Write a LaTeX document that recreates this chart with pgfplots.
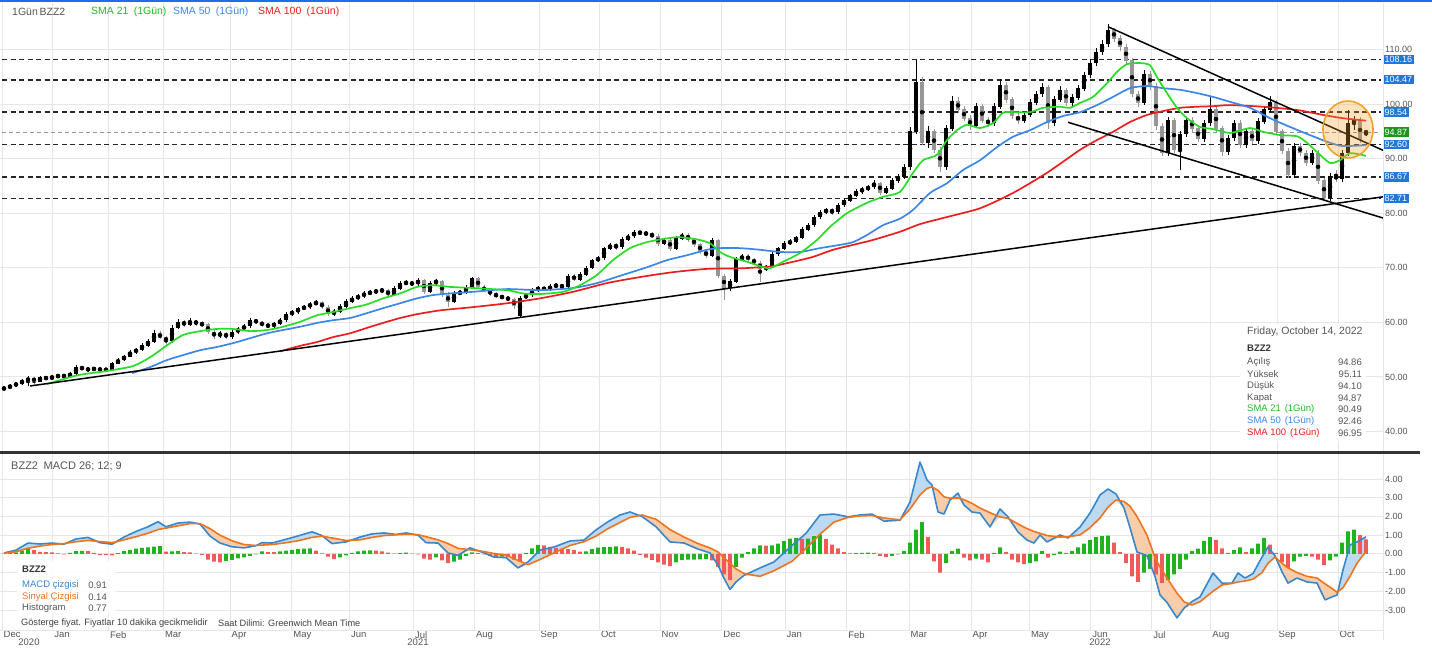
\documentclass[border=0pt]{standalone}
\usepackage{pgfplots}
\usepackage{pgfplotstable}
\pgfplotsset{compat=1.18}
\usepgfplotslibrary{fillbetween}
\usepackage{fontspec}
\setmainfont{Liberation Sans}
\definecolor{smagreen}{RGB}{40,220,40}
\definecolor{smablue}{RGB}{60,135,230}
\definecolor{smared}{RGB}{235,30,30}
\definecolor{candlegray}{RGB}{150,150,150}
\definecolor{gridc}{RGB}{230,230,230}
\definecolor{lblblue}{RGB}{30,120,220}
\definecolor{lblgreen}{RGB}{30,150,30}
\definecolor{macdblue}{RGB}{55,135,205}
\definecolor{sigorange}{RGB}{240,115,30}
\definecolor{fillblue}{RGB}{190,218,242}
\definecolor{fillorange}{RGB}{250,205,170}
\definecolor{histgreen}{RGB}{30,180,30}
\definecolor{histred}{RGB}{240,90,90}
\definecolor{txtgray}{RGB}{85,85,85}
\definecolor{circor}{RGB}{245,160,40}
\definecolor{topblue}{RGB}{30,110,230}
\tikzset{lvl/.style={fill=lblblue, text=white, font=\fontsize{9}{10}\selectfont, inner xsep=1.5pt, inner ysep=1.6pt, anchor=west}}

\pgfplotstableread{
x o h l c
4 47.8 48.3 47.5 48.0
10 48.0 48.7 47.8 48.4
16 48.4 49.1 48.2 48.8
22 48.8 49.6 48.6 49.3
28 49.3 50.2 48.3 49.8
34 49.8 50.0 48.6 49.2
40 49.2 50.2 49.0 49.9
46 49.9 50.2 49.4 49.7
52 49.7 50.4 49.5 50.0
58 50.0 50.6 49.8 50.3
64 50.3 50.5 49.8 50.1
70 50.1 50.9 49.9 50.6
76 50.6 52.2 50.4 51.8
82 51.8 52.0 51.2 51.5
88 51.5 51.8 51.0 51.3
94 51.3 51.9 51.1 51.6
100 51.6 51.8 50.9 51.2
106 51.2 51.7 51.0 51.4
112 51.4 52.8 51.2 52.5
118 52.5 53.5 52.3 53.1
124 53.1 54.1 52.9 53.8
130 53.8 55.0 53.6 54.6
136 54.6 55.4 54.2 55.0
142 55.0 56.2 54.7 55.8
148 55.8 57.0 55.5 56.5
154 56.5 58.6 56.2 58.0
160 58.0 58.5 56.9 57.2
166 57.2 57.6 55.8 56.6
172 56.6 59.5 56.3 59.0
178 59.0 60.6 58.7 60.0
184 60.0 60.5 59.2 59.6
190 59.6 60.8 59.3 60.2
196 60.2 60.5 59.4 59.8
202 59.8 60.2 59.1 59.6
208 59.6 59.9 57.8 58.2
214 58.2 58.6 57.0 57.5
220 57.5 58.4 57.2 58.0
226 58.0 58.3 56.9 57.3
232 57.3 58.6 57.0 58.2
238 58.2 59.2 57.9 58.8
244 58.8 59.7 58.5 59.3
250 59.3 60.8 59.0 60.4
256 60.4 60.7 59.7 60.0
262 60.0 60.3 59.2 59.5
268 59.5 59.9 58.9 59.3
274 59.3 60.1 59.0 59.8
280 59.8 60.8 59.5 60.4
286 60.4 61.9 60.1 61.5
292 61.5 62.3 61.2 61.9
298 61.9 62.9 61.6 62.5
304 62.5 63.2 62.2 62.8
310 62.8 63.8 62.5 63.4
316 63.4 64.1 63.1 63.6
322 63.6 63.9 62.4 62.8
328 62.8 63.1 61.1 61.5
334 61.5 62.4 61.2 62.0
340 62.0 63.3 61.7 62.9
346 62.9 64.2 62.6 63.8
352 63.8 64.8 63.5 64.4
358 64.4 65.2 64.1 64.8
364 64.8 65.7 64.5 65.3
370 65.3 65.9 65.0 65.5
376 65.5 66.2 65.2 65.8
382 65.8 66.3 65.4 65.9
388 65.9 66.1 64.6 65.0
394 65.0 66.6 64.8 66.2
400 66.2 67.5 65.9 67.1
406 67.1 67.7 66.8 67.3
412 67.3 67.6 66.6 67.0
418 67.0 68.1 66.7 67.7
424 67.7 67.9 65.2 65.6
430 65.6 67.6 65.3 67.2
436 67.2 68.0 66.9 67.5
442 67.5 67.8 64.6 65.0
448 65.0 65.5 62.8 63.8
454 63.8 65.7 63.5 65.3
460 65.3 65.9 65.0 65.5
466 65.5 66.8 65.2 66.4
472 66.4 68.4 66.1 68.0
478 68.0 68.3 66.2 66.5
484 66.5 66.8 65.5 65.8
490 65.8 66.1 64.9 65.2
496 65.2 65.5 64.5 64.8
502 64.8 65.1 64.2 64.5
508 64.5 64.8 63.9 64.2
514 64.2 64.4 62.5 63.0
520 61.3 64.8 60.8 64.5
526 64.5 65.4 64.2 65.0
532 65.0 66.3 64.7 65.9
538 65.9 66.7 65.6 66.3
544 66.3 66.6 65.7 66.0
550 66.0 67.0 65.7 66.6
556 66.6 67.2 66.3 66.8
562 66.8 67.1 66.1 66.5
568 66.5 68.9 66.2 68.5
574 68.5 68.8 67.5 67.9
580 67.9 69.2 67.6 68.8
586 68.8 70.4 68.5 70.0
592 70.0 71.7 69.7 71.3
598 71.3 72.2 71.0 71.8
604 71.8 73.9 71.5 73.5
610 73.5 74.6 73.2 74.2
616 74.2 74.5 73.3 73.8
622 73.8 75.6 73.5 75.2
628 75.2 76.2 74.9 75.8
634 75.8 76.9 75.5 76.5
640 76.5 76.8 76.0 76.4
646 76.4 76.7 75.8 76.2
652 76.2 76.5 75.4 75.8
658 75.8 76.1 74.0 74.4
664 74.4 75.5 74.1 75.1
670 75.1 75.4 73.1 73.5
676 73.5 75.8 73.2 75.4
682 75.4 76.4 75.1 76.0
688 76.0 76.3 74.8 75.2
694 75.2 75.5 73.9 74.3
700 74.3 74.6 72.6 73.0
706 73.0 73.3 71.8 72.2
712 72.2 75.4 71.9 75.0
718 75.0 75.3 68.1 68.5
724 68.5 68.9 64.1 66.3
730 66.3 67.9 65.8 67.5
736 67.5 71.9 67.2 71.5
742 71.5 72.6 71.2 72.2
748 72.2 72.5 71.1 71.5
754 71.5 71.8 70.5 70.9
760 70.9 71.2 67.4 69.8
766 69.8 70.6 69.4 70.2
772 70.2 72.9 69.9 72.5
778 72.5 73.9 72.2 73.5
784 73.5 74.9 73.2 74.5
790 74.5 75.2 74.2 74.8
796 74.8 75.9 74.5 75.5
802 75.5 77.4 75.2 77.0
808 77.0 78.2 76.7 77.8
814 77.8 79.7 77.5 79.3
820 79.3 80.6 79.0 80.2
826 80.2 81.0 79.8 80.6
832 80.6 80.9 79.7 80.2
838 80.2 81.9 79.9 81.5
844 81.5 82.7 81.2 82.3
850 82.3 83.6 82.0 83.2
856 83.2 84.4 82.9 84.0
862 84.0 84.8 83.6 84.4
868 84.4 85.2 84.0 84.8
874 84.8 86.0 84.5 85.5
880 85.5 85.8 83.4 83.8
886 83.8 84.9 83.5 84.5
892 84.5 86.5 84.2 86.0
898 86.0 87.1 85.6 86.6
904 86.6 89.0 86.2 88.5
910 88.5 95.8 88.0 95.0
916 95.0 108.0 94.5 104.0
922 104.0 105.0 92.5 93.0
928 93.0 96.0 92.0 95.0
934 95.0 95.5 91.0 91.6
940 91.6 92.2 87.6 88.5
946 88.5 96.2 88.0 95.5
952 95.5 101.4 95.0 100.5
958 100.5 101.2 98.4 99.0
964 99.0 99.6 96.8 97.3
970 97.3 97.9 95.3 96.0
976 96.0 100.2 95.6 99.5
982 99.5 100.0 96.5 97.0
988 97.0 97.6 95.8 96.5
994 96.5 100.2 96.0 99.5
1000 99.5 104.6 99.0 103.5
1006 103.5 104.0 100.2 100.8
1012 100.8 101.3 97.3 97.8
1018 97.8 98.3 96.4 97.0
1024 97.0 98.6 96.5 98.0
1030 98.0 100.9 97.6 100.3
1036 100.3 102.4 99.8 101.8
1042 101.8 103.8 101.3 103.0
1048 103.0 103.5 95.5 96.5
1054 96.5 101.4 96.0 100.8
1060 100.8 103.3 100.3 102.6
1066 102.6 103.0 99.6 100.2
1072 100.2 101.8 99.7 101.2
1078 101.2 103.4 100.7 102.8
1084 102.8 105.9 102.3 105.3
1090 105.3 108.2 104.8 107.5
1096 107.5 110.2 107.0 109.5
1102 109.5 111.8 109.0 111.0
1108 111.0 114.6 110.5 113.5
1114 113.5 114.0 111.4 112.0
1120 112.0 112.6 109.8 110.4
1126 110.4 111.0 107.3 108.0
1132 108.0 108.5 101.2 101.8
1138 101.8 102.4 99.5 100.2
1144 100.2 106.2 99.8 105.5
1150 105.5 106.0 102.6 103.2
1156 103.2 103.8 95.3 96.0
1162 96.0 96.6 90.4 91.0
1168 91.0 97.7 90.5 97.0
1174 97.0 97.5 91.0 91.6
1180 91.6 95.1 88.0 94.5
1186 94.5 97.7 94.0 97.1
1192 97.1 97.6 94.9 95.5
1198 95.5 96.0 93.0 93.6
1204 93.6 97.1 93.1 96.5
1210 96.5 101.3 96.0 99.0
1216 99.0 99.5 94.9 95.5
1222 95.5 96.0 90.5 91.2
1228 91.2 94.4 90.7 93.8
1234 93.8 97.1 93.3 96.5
1240 96.5 97.0 91.9 92.5
1246 92.5 95.6 92.0 95.0
1252 95.0 95.5 92.6 93.2
1258 93.2 97.4 92.7 96.8
1264 96.8 99.6 96.3 99.0
1270 99.0 101.5 98.5 100.3
1276 100.3 100.8 94.4 95.0
1282 95.0 95.5 90.8 91.4
1288 91.4 91.9 86.4 87.0
1294 87.0 92.9 86.5 92.3
1300 92.3 92.8 90.4 91.0
1306 91.0 91.5 88.7 89.3
1312 89.3 91.6 88.8 91.0
1318 91.0 91.5 85.4 86.0
1324 86.0 86.5 82.2 82.8
1330 82.8 87.4 82.3 86.8
1336 86.8 87.9 85.8 86.3
1342 86.3 91.6 85.8 91.0
1348 91.0 98.9 90.5 96.5
1354 96.5 97.8 95.2 97.0
1360 97.0 97.6 92.9 93.5
1366 94.86 95.11 94.10 94.87
}\candles

\pgfplotstableread{
x m s
4 0.05 0.03
16 0.2 0.12
28 0.58 0.3
40 0.53 0.42
52 0.58 0.5
64 0.52 0.55
76 0.8 0.65
88 0.88 0.72
100 0.6 0.66
112 0.52 0.6
124 0.9 0.75
136 1.2 0.92
148 1.45 1.1
158 1.72 1.3
166 1.45 1.38
178 1.65 1.5
190 1.7 1.62
200 1.6 1.62
210 0.95 1.35
220 0.58 1.0
232 0.38 0.7
244 0.32 0.5
256 0.44 0.45
262 0.6 0.47
272 0.58 0.5
284 0.75 0.58
298 0.96 0.7
312 1.18 0.88
322 0.98 0.95
332 0.55 0.85
346 0.64 0.72
360 0.9 0.75
372 1.07 0.88
384 1.12 0.98
396 1.04 1.02
406 1.12 1.05
418 1.0 1.03
426 0.6 0.92
438 0.58 0.75
448 0.05 0.55
458 -0.08 0.3
470 0.32 0.22
482 0.1 0.14
494 -0.17 0.02
506 -0.2 -0.06
518 -0.75 -0.35
528 -0.43 -0.58
540 0.2 -0.3
554 0.37 0.05
570 0.69 0.45
584 0.74 0.65
596 1.28 0.95
608 1.72 1.35
620 2.08 1.68
630 2.24 1.95
642 2.0 2.08
656 1.45 1.85
670 0.64 1.3
684 0.58 0.9
698 0.26 0.55
710 0.05 0.32
718 -0.6 0.1
724 -1.3 -0.2
730 -1.9 -0.5
736 -1.5 -0.8
744 -1.15 -1.05
760 -0.75 -1.2
774 -0.43 -0.9
792 0.45 -0.4
806 1.1 0.3
820 2.08 1.05
834 2.13 1.7
848 1.98 1.95
860 2.08 2.03
872 2.13 2.05
884 1.75 1.92
900 1.8 1.82
910 2.77 2.4
920 4.91 3.15
927 3.95 3.5
932 3.68 3.58
938 2.24 3.4
944 2.13 3.05
950 2.88 2.98
958 3.25 2.99
964 2.61 2.9
972 2.24 2.7
980 2.18 2.45
990 1.44 2.2
1000 2.4 1.98
1008 1.98 1.9
1018 1.17 1.6
1027 0.74 1.35
1034 0.58 1.2
1040 1.01 1.1
1047 0.64 0.98
1060 1.01 0.9
1068 0.85 0.92
1080 1.44 1.01
1090 2.18 1.4
1100 3.15 1.92
1108 3.47 2.5
1116 3.2 2.88
1124 2.45 2.8
1130 1.4 2.55
1137 0.1 2.0
1147 -0.1 1.0
1155 -1.2 -0.2
1160 -2.2 -0.7
1167 -2.6 -1.29
1177 -3.42 -2.1
1184 -2.9 -2.56
1192 -2.55 -2.73
1200 -2.3 -2.56
1213 -1.02 -2.0
1222 -1.56 -1.66
1232 -1.56 -1.58
1238 -1.02 -1.5
1245 -1.29 -1.45
1253 -1.05 -1.35
1262 -0.17 -1.0
1268 0.37 -0.5
1275 -0.1 -0.17
1282 -0.96 -0.5
1288 -1.56 -0.75
1297 -1.29 -1.0
1307 -1.5 -1.2
1317 -1.56 -1.29
1325 -2.46 -1.6
1332 -2.3 -1.85
1337 -2.2 -2.05
1343 -0.86 -1.8
1350 0.48 -1.2
1357 0.64 -0.5
1366 0.91 0.14
}\macd

\begin{document}
\begin{tikzpicture}

% ---------------- price panel ----------------
\begin{axis}[
  at={(0pt,-3pt)}, anchor=north west,
  scale only axis, width=1383pt, height=449pt,
  xmin=0, xmax=1383, ymin=36.26, ymax=118.5,
  axis line style={draw=none}, tick style={draw=none},
  xtick={2,52.7,108.3,163.3,230,291.7,349.3,413.3,474.3,539,599.3,660,721.7,785,846.7,909,971,1029.3,1090.7,1151.7,1210.7,1277,1338},
  xticklabels={},
  ytick={40,50,...,110},
  grid=major, grid style={gridc, line width=1pt},
  yticklabel pos=right,
  yticklabel={\pgfmathprintnumber[fixed,fixed zerofill,precision=2,assume math mode=true]{\tick}},
  yticklabel style={font=\fontsize{9}{10}\selectfont, text=txtgray, anchor=west, inner sep=0pt, xshift=2pt},
  clip mode=individual,
]
% horizontal levels
\addplot[candlegray, line width=0.9pt, dash pattern=on 4pt off 3pt] coordinates {(2,94.87) (1381,94.87)};
\addplot[black!85, line width=1.8pt, dash pattern=on 5pt off 3.5pt] coordinates {(2,108.16) (1381,108.16)};
\addplot[black!85, line width=1.8pt, dash pattern=on 5pt off 3.5pt] coordinates {(2,104.47) (1381,104.47)};
\addplot[black!85, line width=1.8pt, dash pattern=on 5pt off 3.5pt] coordinates {(2,98.54) (1381,98.54)};
\addplot[black!85, line width=1.8pt, dash pattern=on 5pt off 3.5pt] coordinates {(2,92.60) (1381,92.60)};
\addplot[black!85, line width=1.8pt, dash pattern=on 5pt off 3.5pt] coordinates {(2,86.67) (1381,86.67)};
\addplot[black!85, line width=1.8pt, dash pattern=on 5pt off 3.5pt] coordinates {(2,82.71) (1381,82.71)};
% candles: down (gray)
\addplot[only marks, mark=none, restrict expr to domain={\thisrow{c}-\thisrow{o}}{-1000:-0.000001},
  error bars/.cd, y dir=both, y explicit, error mark=none, error bar style={line width=1pt, candlegray}]
  table[x=x, y expr=(\thisrow{h}+\thisrow{l})/2, y error expr=(\thisrow{h}-\thisrow{l})/2] {\candles};
\addplot[only marks, mark=none, restrict expr to domain={\thisrow{c}-\thisrow{o}}{-1000:-0.000001},
  error bars/.cd, y dir=both, y explicit, error mark=none, error bar style={line width=3.6pt, candlegray}]
  table[x=x, y expr=(\thisrow{o}+\thisrow{c})/2, y error expr=abs(\thisrow{c}-\thisrow{o})/2+0.05] {\candles};
% candles: up (black)
\addplot[only marks, mark=none, restrict expr to domain={\thisrow{c}-\thisrow{o}}{0:1000},
  error bars/.cd, y dir=both, y explicit, error mark=none, error bar style={line width=1pt, black}]
  table[x=x, y expr=(\thisrow{h}+\thisrow{l})/2, y error expr=(\thisrow{h}-\thisrow{l})/2] {\candles};
\addplot[only marks, mark=none, restrict expr to domain={\thisrow{c}-\thisrow{o}}{0:1000},
  error bars/.cd, y dir=both, y explicit, error mark=none, error bar style={line width=3.6pt, black}]
  table[x=x, y expr=(\thisrow{o}+\thisrow{c})/2, y error expr=abs(\thisrow{c}-\thisrow{o})/2+0.05] {\candles};
% SMA 100
\addplot[smared, line width=1.7pt, smooth, tension=0.4] coordinates {
(280,54.7) (300,55.7) (317,56.4) (333,57.3) (350,58.0) (367,59.0) (383,59.9) (400,60.8) (417,61.5) (440,62.2) (473,62.8) (507,63.5) (540,64.4) (573,65.6) (607,67.2) (640,68.3) (673,69.2) (707,69.8) (740,69.9) (760,70.1) (773,70.3) (793,71.1) (813,72.0) (833,73.3) (853,74.2) (873,75.1) (900,76.6) (920,78.0) (947,79.3) (980,80.9) (1013,83.7) (1047,87.4) (1080,91.6) (1097,93.4) (1113,94.9) (1130,96.7) (1147,98.0) (1163,98.7) (1180,99.3) (1197,99.5) (1213,99.6) (1230,99.8) (1263,99.5) (1297,98.9) (1323,98.0) (1343,97.4) (1366,96.95)};
% SMA 50
\addplot[smablue, line width=1.7pt, smooth, tension=0.4] coordinates {
(132,50.7) (150,51.8) (167,53.1) (183,54.0) (200,54.9) (217,55.5) (233,56.2) (250,57.1) (267,58.0) (283,58.6) (300,59.2) (317,59.9) (333,60.4) (350,60.8) (367,61.7) (383,62.6) (400,63.5) (417,64.4) (433,65.0) (450,65.3) (473,65.6) (507,66.1) (540,65.9) (573,66.3) (597,67.2) (623,68.7) (647,70.1) (667,71.4) (687,72.3) (707,73.3) (720,73.6) (740,73.6) (760,73.3) (780,72.9) (800,72.9) (820,73.6) (840,74.2) (853,74.7) (867,76.0) (883,77.8) (900,79.0) (913,80.6) (930,83.7) (947,85.5) (963,87.9) (980,89.7) (997,92.1) (1013,94.0) (1030,95.2) (1047,96.7) (1063,97.8) (1080,98.5) (1097,99.8) (1113,101.3) (1130,102.9) (1147,103.3) (1163,102.9) (1180,102.6) (1197,102.0) (1213,101.3) (1230,100.4) (1250,99.3) (1270,97.4) (1290,95.8) (1310,94.3) (1330,92.9) (1343,92.3) (1366,92.46)};
% SMA 21
\addplot[smagreen, line width=1.7pt, smooth, tension=0.4] coordinates {
(47,48.7) (77,50.3) (107,51.1) (133,52.0) (150,53.6) (167,55.8) (183,57.7) (200,58.4) (217,58.8) (233,58.8) (250,58.4) (267,58.6) (283,59.2) (300,60.1) (317,61.3) (333,61.9) (350,62.6) (367,63.3) (383,64.4) (400,65.3) (417,66.5) (433,66.8) (450,66.5) (473,66.3) (507,65.9) (523,65.3) (540,65.2) (563,65.6) (580,66.8) (597,68.7) (613,71.4) (630,73.6) (647,74.7) (667,75.4) (680,75.6) (697,75.2) (710,74.5) (720,72.9) (730,72.0) (747,71.1) (760,70.3) (770,69.9) (783,71.1) (800,72.7) (817,75.1) (830,77.5) (847,80.0) (867,81.9) (883,83.0) (900,83.9) (913,87.4) (923,89.7) (937,90.7) (947,93.4) (957,95.2) (967,96.2) (980,95.6) (993,96.5) (1003,98.4) (1013,98.5) (1030,98.5) (1043,99.3) (1060,99.5) (1070,99.3) (1080,100.2) (1093,101.3) (1107,103.8) (1117,105.9) (1127,107.3) (1140,107.5) (1150,107.1) (1157,104.9) (1167,102.0) (1177,99.3) (1187,97.4) (1200,95.8) (1213,95.4) (1230,94.7) (1250,95.6) (1263,94.9) (1280,94.3) (1297,94.1) (1307,92.9) (1317,91.2) (1330,89.2) (1340,89.7) (1350,91.0) (1366,90.49)};
% trend lines
\addplot[black, line width=1.5pt] coordinates {(30,48.35) (1383,83.0)};
\addplot[black, line width=1.5pt] coordinates {(1108,114.16) (1383,91.52)};
\addplot[black, line width=1.5pt] coordinates {(1068,96.65) (1383,79.12)};
% highlight circle
\draw[circor, line width=1.6pt, fill=circor, fill opacity=0.3] (axis cs:1348,95.33) ellipse [x radius=25pt, y radius=28.5pt];
% level labels
\node[lvl] at (axis cs:1383,108.16) {108.16};
\node[lvl] at (axis cs:1383,104.47) {104.47};
\node[lvl] at (axis cs:1383,98.54) {98.54};
\node[lvl] at (axis cs:1383,92.60) {92.60};
\node[lvl] at (axis cs:1383,86.67) {86.67};
\node[lvl] at (axis cs:1383,82.71) {82.71};
\node[lvl, fill=lblgreen] at (axis cs:1383,94.87) {94.87};
\end{axis}

% ---------------- MACD panel ----------------
\begin{axis}[
  at={(0pt,-454pt)}, anchor=north west,
  scale only axis, width=1383pt, height=176pt,
  xmin=0, xmax=1383, ymin=-4.07, ymax=5.34,
  axis line style={draw=none}, tick style={draw=none},
  xtick={2,52.7,108.3,163.3,230,291.7,349.3,413.3,474.3,539,599.3,660,721.7,785,846.7,909,971,1029.3,1090.7,1151.7,1210.7,1277,1338},
  xticklabels={Dec,Jan,Feb,Mar,Apr,May,Jun,Jul,Aug,Sep,Oct,Nov,Dec,Jan,Feb,Mar,Apr,May,Jun,Jul,Aug,Sep,Oct},
  xticklabel style={anchor=north west, font=\fontsize{9.5}{10}\selectfont, text=txtgray, inner sep=0pt, xshift=1.5pt, yshift=-1pt},
  ytick={-3,...,4},
  grid=major, grid style={gridc, line width=1pt},
  yticklabel pos=right,
  yticklabel={\pgfmathprintnumber[fixed,fixed zerofill,precision=2,assume math mode=true]{\tick}},
  yticklabel style={font=\fontsize{9}{10}\selectfont, text=txtgray, anchor=west, inner sep=0pt, xshift=2pt},
]
\addplot[draw=none, name path=macdp] table[x=x, y=m] {\macd};
\addplot[draw=none, name path=sigp] table[x=x, y=s] {\macd};
\addplot[draw=none, name path=minp] table[x=x, y expr={min(\thisrow{m},\thisrow{s})}] {\macd};
\addplot[fill=fillblue, draw=none] fill between[of=macdp and minp];
\addplot[fill=fillorange, draw=none] fill between[of=sigp and minp];
\addplot[ybar, bar width=3.6pt, bar shift=0pt, fill=histgreen, draw=none] coordinates {
(4,0.02)(10,0.05)(16,0.08)(22,0.18)(28,0.28)(70,0.06)(76,0.15)(82,0.16)(118,0.04)(124,0.15)(130,0.22)(136,0.28)(142,0.32)(148,0.35)(154,0.39)(160,0.42)(172,0.14)(178,0.15)(226,-0.38)(232,-0.32)(238,-0.24)(244,-0.18)(250,-0.10)(256,-0.02)(262,0.13)(280,0.14)(286,0.18)(292,0.22)(298,0.26)(304,0.28)(310,0.30)(340,-0.18)(346,-0.08)(352,0.05)(358,0.14)(364,0.17)(370,0.19)(400,0.04)(406,0.07)(436,-0.18)(454,-0.42)(460,-0.30)(466,-0.10)(472,0.08)(502,-0.15)(526,0.05)(532,0.30)(538,0.48)(586,0.13)(592,0.25)(598,0.33)(604,0.36)(610,0.38)(616,0.40)(676,-0.45)(682,-0.33)(688,-0.31)(694,-0.30)(700,-0.29)(706,-0.28)(736,-0.70)(742,-0.20)(748,0.10)(754,0.30)(760,0.45)(772,0.46)(778,0.55)(784,0.68)(790,0.82)(796,0.85)(808,0.82)(814,0.95)(820,1.03)(856,0.04)(862,0.05)(868,0.07)(892,-0.10)(898,-0.03)(904,0.15)(910,0.60)(916,1.30)(922,1.70)(946,-0.50)(952,0.15)(958,0.28)(976,-0.25)(994,0.05)(1000,0.35)(1030,-0.50)(1036,-0.40)(1042,0.15)(1054,-0.05)(1060,0.12)(1072,0.15)(1078,0.35)(1084,0.55)(1090,0.75)(1096,0.90)(1102,0.95)(1108,0.98)(1144,-1.00)(1150,-0.80)(1168,-1.40)(1174,-1.10)(1180,-0.80)(1186,-0.30)(1192,0.15)(1198,0.28)(1204,0.70)(1210,0.90)(1234,0.20)(1240,0.35)(1252,0.30)(1258,0.55)(1264,0.85)(1294,-0.40)(1300,-0.15)(1306,-0.10)(1330,-0.35)(1336,-0.15)(1342,0.60)(1348,1.20)(1354,1.30)};
\addplot[ybar, bar width=3.6pt, bar shift=0pt, fill=histred, draw=none] coordinates {
(34,0.20)(40,0.11)(46,0.10)(52,0.08)(58,0.03)(64,-0.03)(88,0.15)(94,0.05)(100,-0.06)(106,-0.07)(112,-0.08)(166,0.12)(184,0.10)(190,0.08)(196,0.02)(202,-0.05)(208,-0.30)(214,-0.42)(220,-0.45)(268,0.10)(274,0.09)(316,0.18)(322,0.03)(328,-0.15)(334,-0.28)(376,0.17)(382,0.14)(388,0.07)(394,0.01)(412,0.02)(418,-0.03)(424,-0.25)(430,-0.30)(442,-0.35)(448,-0.50)(478,0.04)(484,-0.02)(490,-0.12)(496,-0.19)(508,-0.16)(514,-0.30)(520,-0.40)(544,0.45)(550,0.38)(556,0.32)(562,0.28)(568,0.25)(574,0.20)(580,0.12)(622,0.38)(628,0.30)(634,0.18)(640,-0.05)(646,-0.20)(652,-0.32)(658,-0.45)(664,-0.58)(670,-0.66)(712,-0.35)(718,-0.70)(724,-1.10)(730,-1.40)(766,0.44)(802,0.80)(826,0.80)(832,0.50)(838,0.30)(844,0.10)(850,0.03)(874,0.05)(880,-0.10)(886,-0.17)(928,0.90)(934,-0.40)(940,-1.00)(964,-0.20)(970,-0.35)(982,-0.30)(988,-0.45)(1006,0.10)(1012,-0.30)(1018,-0.45)(1024,-0.55)(1048,-0.20)(1066,0.05)(1114,0.60)(1120,0.10)(1126,-0.50)(1132,-1.20)(1138,-1.50)(1156,-1.10)(1162,-1.55)(1216,0.75)(1222,0.30)(1228,0.05)(1246,0.10)(1270,0.50)(1276,0.05)(1282,-0.45)(1288,-0.75)(1312,-0.15)(1318,-0.30)(1324,-0.60)(1360,1.00)(1366,0.77)};
\addplot[macdblue, line width=1.6pt, line join=round] table[x=x, y=m] {\macd};
\addplot[sigorange, line width=1.6pt, line join=round] table[x=x, y=s] {\macd};
\end{axis}

% ---------------- frame decorations ----------------
\draw[topblue, line width=1.5pt] (0pt,-0.8pt) -- (1432pt,-0.8pt);
\draw[black!80, line width=3pt] (0pt,-452.5pt) -- (1420pt,-452.5pt);
\draw[gridc, line width=1pt] (1383pt,-3pt) -- (1383pt,-451pt);
\draw[gridc, line width=1pt] (1383pt,-454pt) -- (1383pt,-640pt);
\draw[gridc, line width=1pt] (0pt,-630pt) -- (1383pt,-630pt);

% top legend line
\node[anchor=west, inner sep=0pt, font=\fontsize{10.5}{12}\selectfont, text=txtgray] at (12pt,-12pt) {1Gün\,BZZ2};
\node[anchor=west, inner sep=0pt, font=\fontsize{10.5}{12}\selectfont, text=smagreen!85!black] at (91pt,-12pt) {SMA 21\hspace{0.5em}(1Gün)};
\node[anchor=west, inner sep=0pt, font=\fontsize{10.5}{12}\selectfont, text=smablue] at (173pt,-12pt) {SMA 50\hspace{0.5em}(1Gün)};
\node[anchor=west, inner sep=0pt, font=\fontsize{10.5}{12}\selectfont, text=smared] at (258pt,-12pt) {SMA 100\hspace{0.5em}(1Gün)};

% info box
\fill[white] (1240pt,-324pt) rectangle (1366pt,-441pt);
\node[anchor=west, inner sep=0pt, font=\fontsize{10.5}{12}\selectfont, text=txtgray] at (1247pt,-332pt) {Friday, October 14, 2022};
\node[anchor=west, inner sep=0pt, font=\fontsize{9.5}{11}\selectfont\bfseries, text=black!80] at (1247pt,-348pt) {BZZ2};
\node[anchor=west, inner sep=0pt, font=\fontsize{9.5}{11}\selectfont, text=txtgray] at (1247pt,-362pt) {Açılış};
\node[anchor=east, inner sep=0pt, font=\fontsize{9.5}{11}\selectfont, text=txtgray] at (1362pt,-362pt) {94.86};
\node[anchor=west, inner sep=0pt, font=\fontsize{9.5}{11}\selectfont, text=txtgray] at (1247pt,-374pt) {Yüksek};
\node[anchor=east, inner sep=0pt, font=\fontsize{9.5}{11}\selectfont, text=txtgray] at (1362pt,-374pt) {95.11};
\node[anchor=west, inner sep=0pt, font=\fontsize{9.5}{11}\selectfont, text=txtgray] at (1247pt,-386pt) {Düşük};
\node[anchor=east, inner sep=0pt, font=\fontsize{9.5}{11}\selectfont, text=txtgray] at (1362pt,-386pt) {94.10};
\node[anchor=west, inner sep=0pt, font=\fontsize{9.5}{11}\selectfont, text=txtgray] at (1247pt,-398pt) {Kapat};
\node[anchor=east, inner sep=0pt, font=\fontsize{9.5}{11}\selectfont, text=txtgray] at (1362pt,-398pt) {94.87};
\node[anchor=west, inner sep=0pt, font=\fontsize{9.5}{11}\selectfont, text=smagreen!85!black] at (1247pt,-409pt) {SMA 21\hspace{0.4em}(1Gün)};
\node[anchor=east, inner sep=0pt, font=\fontsize{9.5}{11}\selectfont, text=txtgray] at (1362pt,-409pt) {90.49};
\node[anchor=west, inner sep=0pt, font=\fontsize{9.5}{11}\selectfont, text=smablue] at (1247pt,-421pt) {SMA 50\hspace{0.4em}(1Gün)};
\node[anchor=east, inner sep=0pt, font=\fontsize{9.5}{11}\selectfont, text=txtgray] at (1362pt,-421pt) {92.46};
\node[anchor=west, inner sep=0pt, font=\fontsize{9.5}{11}\selectfont, text=smared] at (1247pt,-433pt) {SMA 100\hspace{0.4em}(1Gün)};
\node[anchor=east, inner sep=0pt, font=\fontsize{9.5}{11}\selectfont, text=txtgray] at (1362pt,-433pt) {96.95};

% MACD title and legend
\node[anchor=west, inner sep=0pt, font=\fontsize{11}{12}\selectfont, text=txtgray] at (11pt,-466pt) {BZZ2\hspace{0.5em}MACD 26; 12; 9};
\fill[white, opacity=0.9] (17pt,-561pt) rectangle (116pt,-614pt);
\node[anchor=west, inner sep=0pt, font=\fontsize{9.5}{11}\selectfont\bfseries, text=black!80] at (22pt,-569pt) {BZZ2};
\node[anchor=west, inner sep=0pt, font=\fontsize{9.5}{11}\selectfont, text=macdblue] at (22pt,-585pt) {MACD çizgisi};
\node[anchor=east, inner sep=0pt, font=\fontsize{9.5}{11}\selectfont, text=txtgray] at (107pt,-585pt) {0.91};
\node[anchor=west, inner sep=0pt, font=\fontsize{9.5}{11}\selectfont, text=sigorange] at (22pt,-597pt) {Sinyal Çizgisi};
\node[anchor=east, inner sep=0pt, font=\fontsize{9.5}{11}\selectfont, text=txtgray] at (107pt,-597pt) {0.14};
\node[anchor=west, inner sep=0pt, font=\fontsize{9.5}{11}\selectfont, text=txtgray] at (22pt,-608pt) {Histogram};
\node[anchor=east, inner sep=0pt, font=\fontsize{9.5}{11}\selectfont, text=txtgray] at (107pt,-608pt) {0.77};
\node[anchor=west, inner sep=0pt, font=\fontsize{9.2}{11}\selectfont, text=black!75] at (21pt,-623pt) {Gösterge fiyat. Fiyatlar 10 dakika gecikmelidir};
\node[anchor=west, inner sep=0pt, font=\fontsize{9.2}{11}\selectfont, text=black!75] at (218pt,-623pt) {Saat Dilimi: Greenwich Mean Time};

% years
\node[anchor=north, inner sep=0pt, font=\fontsize{9.5}{10}\selectfont, text=txtgray] at (29pt,-639pt) {2020};
\node[anchor=north, inner sep=0pt, font=\fontsize{9.5}{10}\selectfont, text=txtgray] at (418pt,-639pt) {2021};
\node[anchor=north, inner sep=0pt, font=\fontsize{9.5}{10}\selectfont, text=txtgray] at (1100pt,-639pt) {2022};

\pgfresetboundingbox
\path[use as bounding box] (0pt,0pt) rectangle (1432pt,-648pt);
\end{tikzpicture}
\end{document}
